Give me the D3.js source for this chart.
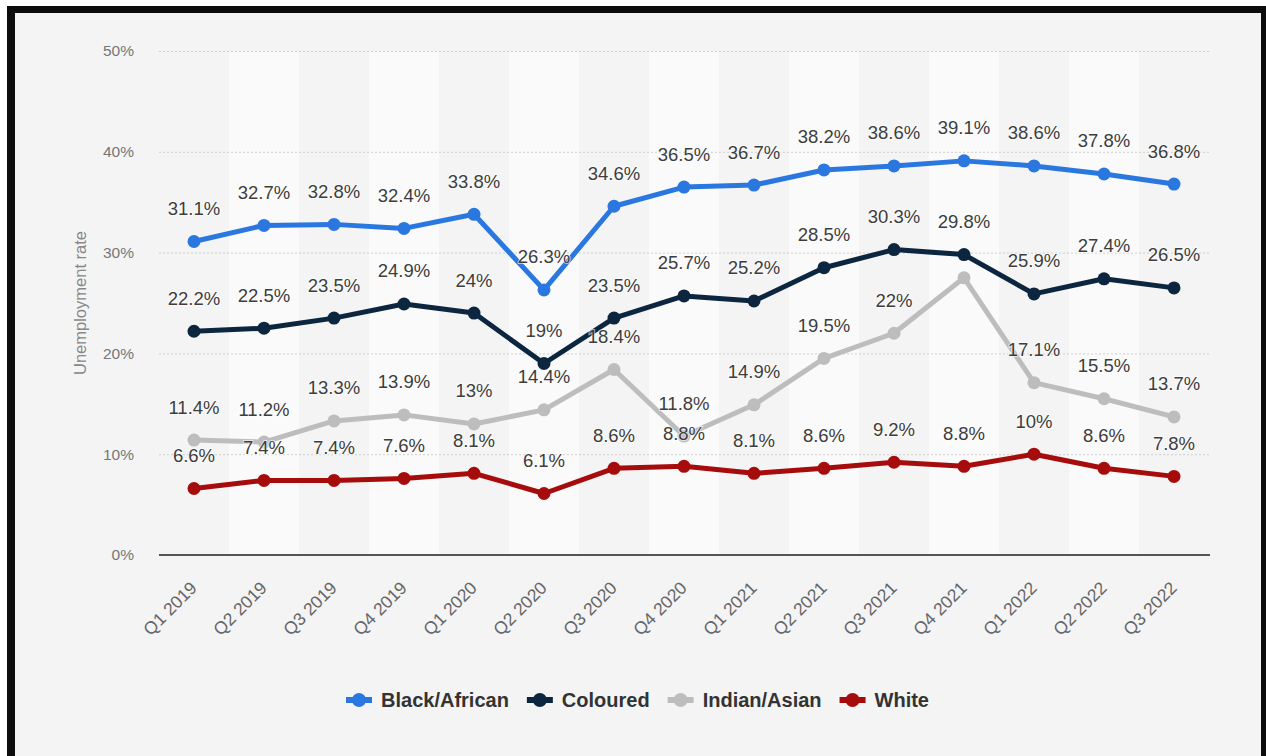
<!DOCTYPE html>
<html>
<head>
<meta charset="utf-8">
<script src="https://cdn.jsdelivr.net/npm/d3@7"></script>
<style>
    body { margin: 0; background: #ffffff; }
    svg { display: block; font-family: "Liberation Sans", Arial, sans-serif; }
</style>
</head>
<body>
<div class="chart"></div>
<script>
// data
const quarters = ["Q1 2019", "Q2 2019", "Q3 2019", "Q4 2019", "Q1 2020", "Q2 2020", "Q3 2020", "Q4 2020",
    "Q1 2021", "Q2 2021", "Q3 2021", "Q4 2021", "Q1 2022", "Q2 2022", "Q3 2022"];
const black_african = [31.1, 32.7, 32.8, 32.4, 33.8, 26.3, 34.6, 36.5, 36.7, 38.2, 38.6, 39.1, 38.6, 37.8, 36.8];
const coloured = [22.2, 22.5, 23.5, 24.9, 24, 19, 23.5, 25.7, 25.2, 28.5, 30.3, 29.8, 25.9, 27.4, 26.5];
const indian_asian = [11.4, 11.2, 13.3, 13.9, 13, 14.4, 18.4, 11.8, 14.9, 19.5, 22, 27.5, 17.1, 15.5, 13.7];
const white = [6.6, 7.4, 7.4, 7.6, 8.1, 6.1, 8.6, 8.8, 8.1, 8.6, 9.2, 8.8, 10, 8.6, 7.8];
const y_ticks = [0, 10, 20, 30, 40, 50];
// labels the original leaves out (series name -> quarter index)
const hidden_labels = { "Indian/Asian": [11] };

const series = [
    { name: "Black/African", values: black_african, color: "#2a78df" },
    { name: "Coloured", values: coloured, color: "#0d2640" },
    { name: "Indian/Asian", values: indian_asian, color: "#bdbdbd" },
    { name: "White", values: white, color: "#a70c0c" }
];

// constants
const width = 1266;
const height = 756;
const plot_left = 159;
const plot_right = 1209;
const plot_top = 51;
const plot_bottom = 555;

const svg = d3.select(".chart").append("svg")
    .attr("width", width)
    .attr("height", height);

// frame
svg.append("rect")
    .attr("x", 7).attr("y", 6)
    .attr("width", width - 7).attr("height", height - 6)
    .attr("fill", "#0c0c0c");
svg.append("rect")
    .attr("x", 15).attr("y", 13)
    .attr("width", 1246).attr("height", height - 13)
    .attr("fill", "#f4f4f4");

// scales
const x_scale = d3.scaleBand()
    .domain(quarters)
    .range([plot_left, plot_right]);

const y_scale = d3.scaleLinear()
    .domain([0, 50])
    .range([plot_bottom, plot_top]);

const cx = d => x_scale(d) + x_scale.bandwidth() / 2;

// alternating column bands
svg.append("g").selectAll("rect")
    .data(quarters.filter((q, i) => i % 2 === 1)).enter()
    .append("rect")
    .attr("x", d => x_scale(d))
    .attr("y", plot_top)
    .attr("width", x_scale.bandwidth())
    .attr("height", plot_bottom - plot_top)
    .attr("fill", "#fafafa");

// y grid + ticks
const y_axis = d3.axisLeft(y_scale)
    .tickValues(y_ticks)
    .tickSize(-(plot_right - plot_left))
    .tickPadding(25)
    .tickFormat(d => d + "%");
const y_g = svg.append("g")
    .attr("class", "y axis")
    .attr("transform", "translate(" + plot_left + ", 0)")
    .call(y_axis);
y_g.select(".domain").remove();
y_g.selectAll("line")
    .attr("stroke", "#cfcfcf")
    .attr("stroke-dasharray", "2,2");
y_g.selectAll("text")
    .attr("fill", "#777")
    .style("font-size", "15.5px");

// baseline
svg.append("line")
    .attr("x1", plot_left).attr("x2", plot_right + 1)
    .attr("y1", y_scale(0)).attr("y2", y_scale(0))
    .attr("stroke", "#555")
    .attr("stroke-width", 2);

// x axis labels
const x_axis = d3.axisBottom(x_scale).tickSize(0).tickPadding(0);
const x_g = svg.append("g")
    .attr("class", "x axis")
    .attr("transform", "translate(0, " + plot_bottom + ")")
    .call(x_axis);
x_g.select(".domain").remove();
x_g.selectAll("text")
    .attr("fill", "#666")
    .style("font-size", "17.5px")
    .attr("text-anchor", "end")
    .attr("y", 0)
    .attr("dy", 0)
    .attr("transform", "translate(4, 34) rotate(-45)");

// y axis title
svg.append("text")
    .attr("text-anchor", "middle")
    .attr("transform", "translate(86, " + ((plot_top + plot_bottom) / 2) + ") rotate(-90)")
    .attr("fill", "#888")
    .style("font-size", "16.5px")
    .text("Unemployment rate");

// lines and dots
const line = d3.line()
    .x((d, i) => cx(quarters[i]))
    .y(d => y_scale(d));

series.forEach(function(s) {
    svg.append("path")
        .datum(s.values)
        .attr("fill", "none")
        .attr("stroke", s.color)
        .attr("stroke-width", 5)
        .attr("stroke-linejoin", "round")
        .attr("d", line);
    svg.append("g").selectAll("circle")
        .data(s.values).enter()
        .append("circle")
        .attr("cx", (d, i) => cx(quarters[i]))
        .attr("cy", d => y_scale(d))
        .attr("r", 6.5)
        .attr("fill", s.color);
});

// value labels
series.forEach(function(s) {
    const hidden = hidden_labels[s.name] || [];
    svg.append("g").selectAll("text")
        .data(s.values.map((v, i) => ({ v: v, i: i })).filter(d => hidden.indexOf(d.i) < 0)).enter()
        .append("text")
        .attr("x", d => cx(quarters[d.i]))
        .attr("y", d => y_scale(d.v) - 33)
        .attr("dy", "0.35em")
        .attr("text-anchor", "middle")
        .attr("fill", "#3d3d3d")
        .attr("stroke", "#ffffff")
        .attr("stroke-width", 2)
        .attr("stroke-opacity", 0.6)
        .attr("paint-order", "stroke")
        .style("font-size", "18.5px")
        .text(d => d.v + "%");
});

// legend (laid out left to right, centred)
const legend = svg.append("g").attr("transform", "translate(0, 700)");
const marker_w = 26;
const marker_gap = 9;
const item_gap = 18;
let legend_x = 0;
const legend_groups = [];
series.forEach(function(s) {
    const g = legend.append("g");
    g.append("line")
        .attr("x1", 0).attr("x2", marker_w)
        .attr("stroke", s.color)
        .attr("stroke-width", 6);
    g.append("circle")
        .attr("cx", marker_w / 2).attr("r", 7)
        .attr("fill", s.color);
    const t = g.append("text")
        .attr("x", marker_w + marker_gap)
        .attr("dy", "0.35em")
        .attr("fill", "#333")
        .style("font-size", "20px")
        .style("font-weight", "bold")
        .text(s.name);
    const w = marker_w + marker_gap + t.node().getComputedTextLength();
    legend_groups.push({ g: g, x: legend_x });
    legend_x += w + item_gap;
});
const legend_total = legend_x - item_gap;
const legend_start = 637.5 - legend_total / 2;
legend_groups.forEach(function(d) {
    d.g.attr("transform", "translate(" + (legend_start + d.x) + ", 0)");
});
</script>
</body>
</html>
